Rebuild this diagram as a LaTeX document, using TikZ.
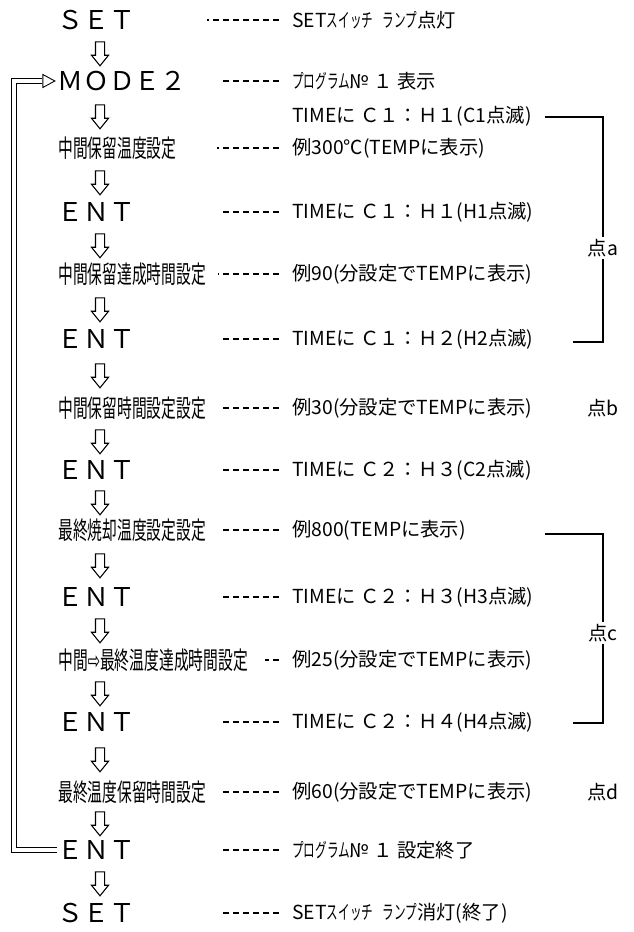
\documentclass[tikz,border=0pt]{standalone}
\usepackage{fontspec}
\setmainfont{Noto Sans CJK JP}
\newfontfamily\symfnt{DejaVu Sans}
\usepackage{graphicx}
\usetikzlibrary{calc,shapes.arrows,shapes.geometric}
\newcommand\nar[1]{\scalebox{0.6}[1]{#1}}
\newcommand\hw[1]{\scalebox{0.6}[1]{#1}}
\tikzset{
  big/.style={anchor=west, inner sep=0pt, font=\fontsize{14.7}{16}\selectfont},
  lab/.style={anchor=west, inner sep=0pt, font=\fontsize{14}{15}\selectfont},
  dsc/.style={anchor=west, inner sep=0pt, font=\fontsize{11}{13}\selectfont},
  sid/.style={inner sep=1pt, font=\fontsize{11}{13}\selectfont},
  dar/.style={single arrow, draw, rotate=-90, minimum height=4.8mm, inner xsep=0pt, inner ysep=0.8mm,
              single arrow head extend=0.8mm, single arrow tip angle=78, line width=0.6pt},
  ldr/.style={draw, line width=0.6pt, dash pattern=on 3.4pt off 2.3pt},
  brk/.style={draw, line width=0.6pt},
  lp/.style={draw, double, double distance=2pt, line width=0.5pt},
  hed/.style={isosceles triangle, isosceles triangle stretches, draw, fill=white,
              minimum width=2.6mm, minimum height=2.4mm, inner sep=0pt, line width=0.5pt},
}
\begin{document}
\begin{tikzpicture}[x=0.02cm, y=-0.02cm]
\useasboundingbox (0,0) rectangle (634,932);
% steps
\node[big] (l1) at (57,20) {ＳＥＴ};
\node[big] (l2) at (57,81) {ＭＯＤＥ２};
\node[lab] (l3) at (58,148) {\nar{中間保留温度設定}};
\node[big] (l4) at (57,212) {ＥＮＴ};
\node[lab] (l5) at (58,274) {\nar{中間保留達成時間設定}};
\node[big] (l6) at (57,339) {ＥＮＴ};
\node[lab] (l7) at (58,408) {\nar{中間保留時間設定設定}};
\node[big] (l8) at (57,470) {ＥＮＴ};
\node[lab] (l9) at (58,530) {\nar{最終焼却温度設定設定}};
\node[big] (l10) at (57,597) {ＥＮＴ};
\node[lab] (l11) at (58,660) {\nar{中間{\symfnt ⇨}最終温度達成時間設定}};
\node[big] (l12) at (57,722) {ＥＮＴ};
\node[lab] (l13) at (58,792) {\nar{最終温度保留時間設定}};
\node[big] (l14) at (57,850) {ＥＮＴ};
\node[big] (l15) at (57,913) {ＳＥＴ};

% what the display shows
\node[dsc] (d1) at (292,20) {SET\hw{スイッチ}\enspace\hw{ランプ}点灯};
\node[dsc] (d2) at (292,81) {\hw{プログラム}№ １ 表示};
\node[dsc] (d2b) at (292,116) {TIMEに Ｃ１：Ｈ１(C1点滅)};
\node[dsc] (d3) at (292,148) {例300℃(TEMPに表示)};
\node[dsc] (d4) at (292,212) {TIMEに Ｃ１：Ｈ１(H1点滅)};
\node[dsc] (d5) at (292,274) {例90(分設定でTEMPに表示)};
\node[dsc] (d6) at (292,339) {TIMEに Ｃ１：Ｈ２(H2点滅)};
\node[dsc] (d7) at (292,408) {例30(分設定でTEMPに表示)};
\node[dsc] (d8) at (292,470) {TIMEに Ｃ２：Ｈ３(C2点滅)};
\node[dsc] (d9) at (292,530) {例800(TEMPに表示)};
\node[dsc] (d10) at (292,597) {TIMEに Ｃ２：Ｈ３(H3点滅)};
\node[dsc] (d11) at (292,660) {例25(分設定でTEMPに表示)};
\node[dsc] (d12) at (292,722) {TIMEに Ｃ２：Ｈ４(H4点滅)};
\node[dsc] (d13) at (292,792) {例60(分設定でTEMPに表示)};
\node[dsc] (d14) at (292,850) {\hw{プログラム}№ １ 設定終了};
\node[dsc] (d15) at (292,913) {SET\hw{スイッチ}\enspace\hw{ランプ}消灯(終了)};

\foreach \n/\y in {1/51,2/114,3/180,4/243,5/307,6/373,7/439,8/500,9/563,10/628,11/691,12/757,13/821,14/881}
  \node[dar] (a\n) at (100,\y) {};

\foreach \n/\s in {1/207,2/222,3/217,4/222,5/218,6/222,7/220,8/222,9/220,10/222,11/265,12/222,13/220,14/222,15/220}
  \draw[ldr] ($(d\n.west)+(-13,0)$) -- ($(d\n.west)+(\s-292,0)$);

% point brackets
\node[sid] (pa) at (603,248) {点a};
\node[sid] (pb) at (603,408) {点b};
\node[sid] (pc) at (603,633) {点c};
\node[sid] (pd) at (603,792) {点d};
\coordinate (at) at (545,117);
\coordinate (ab) at (573,342);
\coordinate (ct) at (545,534);
\coordinate (cb) at (573,723);
\draw[brk] (at) -| (pa.north);
\draw[brk] (ab) -| (pa.south);
\draw[brk] (ct) -| (pc.north);
\draw[brk] (cb) -| (pc.south);

% back to MODE 2
\node[hed, anchor=apex] (hd) at ($(l2.west)+(-1,0)$) {};
\draw[lp] (l14.west) -- ++(-43,0) |- (hd.west);
\end{tikzpicture}
\end{document}
